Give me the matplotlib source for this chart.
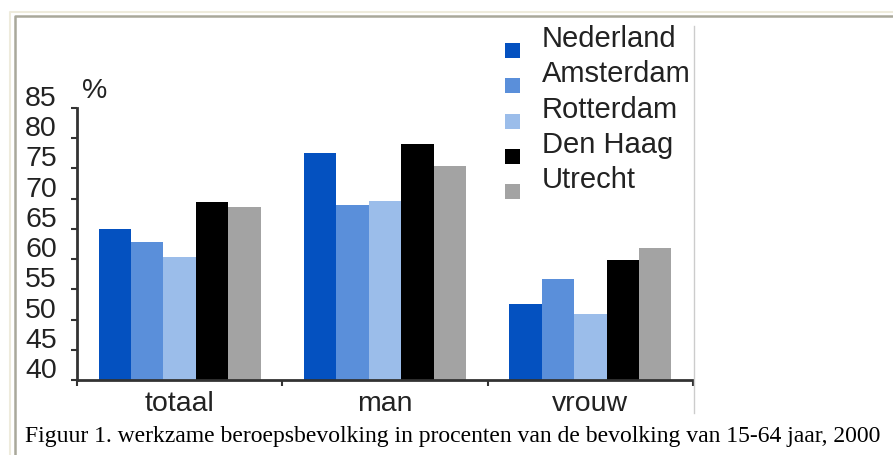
import matplotlib
matplotlib.use("Agg")
import matplotlib.pyplot as plt
import matplotlib.transforms as mtransforms
from matplotlib.lines import Line2D
from matplotlib.patches import Rectangle
import numpy as np

categories = ["totaal", "man", "vrouw"]
series = ["Nederland", "Amsterdam", "Rotterdam", "Den Haag", "Utrecht"]
nederland = [65.0, 77.6, 52.5]
amsterdam = [62.9, 69.0, 56.7]
rotterdam = [60.4, 69.6, 51.0]
den_haag = [69.5, 79.0, 59.9]
utrecht = [68.7, 75.4, 61.9]
yticks = [40, 45, 50, 55, 60, 65, 70, 75, 80, 85]
caption = "Figuur 1. werkzame beroepsbevolking in procenten van de bevolking van 15-64 jaar, 2000"

values = [nederland, amsterdam, rotterdam, den_haag, utrecht]
colors = ["#0451c0", "#5a8fda", "#9bbdea", "#000000", "#a3a3a3"]

W, H = 893, 455
plt.rcParams["font.family"] = ["Liberation Sans", "DejaVu Sans"]
fig = plt.figure(figsize=(W / 100, H / 100), dpi=100)

# axes placed in pixel terms: x 77..693, y 108..380
ax = fig.add_axes([77 / W, (H - 380) / H, 616 / W, 272 / H])

x = np.arange(len(categories))
bw = 0.158
for i, (vals, col) in enumerate(zip(values, colors)):
    ax.bar(x + (i - 2) * bw, [v - 40 for v in vals], bw, bottom=40, color=col,
           linewidth=0)

ax.set_xlim(-0.5, 2.5)
ax.set_ylim(40, 85)
ax.set_yticks(yticks)
ax.set_yticklabels([str(t) for t in yticks], fontsize=20.5, color="#222222")
ax.set_xticks(x)
ax.set_xticklabels(categories, fontsize=20.5, color="#222222")
ax.set_xticks([-0.5, 0.5, 1.5, 2.5], minor=True)
ax.tick_params(axis="x", which="major", length=0, pad=8)
ax.tick_params(axis="x", which="minor", length=4, width=1.5, color="#333333",
               direction="out")
ax.tick_params(axis="y", length=4, width=1.5, color="#333333", pad=10.5)

for s in ["top", "right"]:
    ax.spines[s].set_visible(False)
for s in ["left", "bottom"]:
    ax.spines[s].set_linewidth(2)
    ax.spines[s].set_color("#333333")

# y labels sit a bit above their ticks in the original
shift = mtransforms.ScaledTranslation(0, 12 / 100, fig.dpi_scale_trans)
for lab in ax.get_yticklabels():
    lab.set_transform(lab.get_transform() + shift)

fig.text(82 / W, 1 - 98 / H, "%", fontsize=20.5, color="#222222", va="baseline")

# legend drawn by hand
for i, (name, col) in enumerate(zip(series, colors)):
    top = 43 + i * 35.3
    fig.patches.append(Rectangle((505 / W, 1 - (top + 15) / H), 15 / W, 15 / H,
                                 transform=fig.transFigure, color=col, lw=0))
    fig.text(542 / W, 1 - (top + 4) / H, name, fontsize=21, color="#222222",
             va="baseline")

# frame of the page and edge of the chart image
fig.add_artist(Line2D([9.5 / W, 9.5 / W, 1], [0, 1 - 11.5 / H, 1 - 11.5 / H],
                      color="#eeebdc", lw=1.5))
fig.add_artist(Line2D([15 / W, 15 / W, 1], [0, 1 - 15.5 / H, 1 - 15.5 / H],
                      color="#a9a89a", lw=1.8))
fig.add_artist(Line2D([694 / W, 694 / W], [1 - 26 / H, 1 - 413 / H],
                      color="#cccccc", lw=1))

fig.text(25 / W, 1 - 442 / H, caption, fontsize=17.0, family="Liberation Serif",
         color="black", va="baseline")

fig.savefig("out.png", dpi=100)
